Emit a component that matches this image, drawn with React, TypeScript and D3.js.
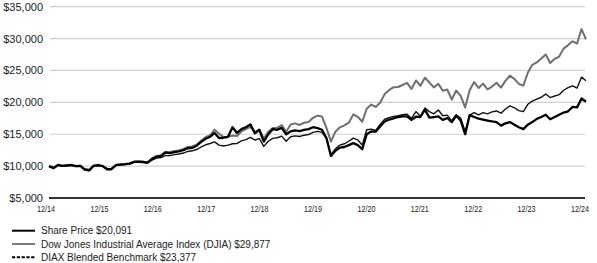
import React from "react";
import * as d3 from "d3";

const xTickLabels = ["12/14", "12/15", "12/16", "12/17", "12/18", "12/19", "12/20", "12/21", "12/22", "12/23", "12/24"];
const yTicks = [5000, 10000, 15000, 20000, 25000, 30000, 35000];

const sharePrice = [
  10000, 9700, 10150, 10050, 10100, 10150, 10000, 10050, 9450, 9350, 10050, 10150, 10000,
  9500, 9550, 10150, 10250, 10300, 10400, 10650, 10700, 10650, 10550, 11100, 11450,
  11600, 12100, 12050, 12200, 12300, 12500, 12800, 12850, 13200, 13800, 14300, 14600,
  15200, 14400, 14450, 14600, 16100, 15200, 15800, 16100, 16550, 15150, 15700, 13850,
  15000, 15800, 15700, 16000, 15000, 15450, 15600, 15500, 15700, 15800, 16100, 15950,
  15700, 14400, 11600, 12400, 12900, 13000, 13300, 13600, 13300, 12650, 15000, 15450,
  15400, 16200, 17000, 17300, 17500, 17700, 17800, 17800, 17250, 17750, 17700, 18850,
  17600, 17700, 17800, 17250, 17550, 16900, 17900, 17150, 15000, 18000, 17700, 17450,
  17300, 17150, 17000, 16900, 16350, 16700, 16900, 16500, 16100, 15800, 16500, 16900,
  17400, 17700, 18050, 17350, 17700, 18050, 18400, 18600, 19300, 19200, 20600, 20091,
];

const djia = [
  10000, 9649, 10212, 10030, 10085, 10200, 9998, 10056, 9413, 9292, 10098, 10149, 9999,
  9466, 9513, 10205, 10276, 10303, 10405, 10716, 10718, 10684, 10607, 11202, 11598,
  11679, 12259, 12194, 12382, 12445, 12671, 13016, 13075, 13372, 13978, 14541, 14836,
  15724, 15079, 14548, 14612, 14792, 14732, 15455, 15819, 16150, 15360, 15647, 14319,
  15374, 15968, 16006, 16447, 15376, 16513, 16708, 16452, 16803, 16916, 17577, 17916,
  17772, 16011, 13837, 15399, 16085, 16388, 16810, 18117, 17738, 16952, 18994, 19651,
  19287, 19935, 21296, 21913, 22378, 22403, 22726, 23047, 22099, 23433, 22602, 23862,
  23113, 22339, 22900, 21817, 22015, 20437, 21853, 21004, 19184, 21901, 23187, 22261,
  22935, 22014, 22472, 23072, 22309, 23369, 24197, 23671, 22886, 22618, 24647, 25888,
  26253, 26885, 27496, 26170, 26822, 27173, 28424, 28979, 29570, 29228, 31490, 29877,
];

const benchmark = [
  10000, 9750, 10150, 10050, 10100, 10150, 10000, 10050, 9550, 9450, 10050, 10100, 10000,
  9600, 9650, 10150, 10200, 10250, 10350, 10600, 10600, 10550, 10500, 10950, 11250,
  11350, 11650, 11650, 11800, 11900, 12050, 12300, 12400, 12600, 13000, 13350, 13550,
  13800, 13300, 13150, 13300, 13500, 13550, 13950, 14150, 14500, 14100, 14300, 13100,
  13900, 14350, 14450, 14700, 13900, 14600, 14750, 14650, 14850, 14950, 15300, 15450,
  15300, 14300, 11800, 12700, 13300, 13500, 13900, 14400, 14100, 13300, 15700, 15800,
  15600, 16550, 17350, 17600, 17800, 17900, 18050, 18150, 17500, 18550, 17800, 19100,
  18550, 18200, 18800, 17900, 18000, 17100, 18050, 17500, 15400, 18000, 18400, 18050,
  18400, 18200, 18500, 18650, 18300, 18950, 19450, 19150, 18700, 18550, 19700, 20200,
  20500, 20800, 21300, 20750, 21000, 21200, 21900, 22300, 22600, 22250, 23950, 23377,
];

const legendLabels = [
  "Share Price $20,091",
  "Dow Jones Industrial Average Index (DJIA) $29,877",
  "DIAX Blended Benchmark $23,377",
];

const W = 597;
const H = 263;
const FONT = "'Liberation Sans', Arial, Helvetica, sans-serif";

export default function App() {
  const x = d3.scaleLinear().domain([0, sharePrice.length - 1]).range([49, 586]);
  const y = d3.scaleLinear().domain([5000, 35000]).range([198, 6.7]);
  const xLab = d3.scaleLinear().domain([0, xTickLabels.length - 1]).range([46, 580]);
  const line = d3
    .line<number>()
    .x((_, i) => x(i))
    .y((d) => y(d));
  const fmt = (v: number) => "$" + d3.format(",")(v);

  const legendY = [230.7, 244, 257.3];

  return (
    <svg
      width={W}
      height={H}
      style={{ position: "absolute", left: 0, top: 0, background: "#fff" }}
      fontFamily={FONT}
    >
      {yTicks.map((t) =>
        t === 5000 ? null : (
          <line key={t} x1={50} x2={585} y1={y(t)} y2={y(t)} stroke="#cfcfcf" strokeWidth={1.2} />
        )
      )}
      {yTicks.map((t) => (
        <text key={"l" + t} x={43} y={y(t)} dy="0.36em" textAnchor="end" fontSize={11} fill="#222">
          {fmt(t)}
        </text>
      ))}
      <line x1={49} x2={585} y1={y(5000)} y2={y(5000)} stroke="#333" strokeWidth={2} />
      {xTickLabels.map((l, i) => (
        <text
          key={l}
          x={xLab(i)}
          y={212}
          textAnchor="middle"
          fontSize={9.5}
          fill="#222"
          textLength={18}
          lengthAdjust="spacingAndGlyphs"
        >
          {l}
        </text>
      ))}
      <path d={line(djia) || ""} fill="none" stroke="#6f6f6f" strokeWidth={2} strokeLinejoin="round" />
      <path d={line(benchmark) || ""} fill="none" stroke="#111" strokeWidth={1.4} strokeLinejoin="round" />
      <path d={line(sharePrice) || ""} fill="none" stroke="#000" strokeWidth={2.3} strokeLinejoin="round" />

      <line x1={12} x2={35} y1={legendY[0]} y2={legendY[0]} stroke="#000" strokeWidth={2} />
      <line x1={12} x2={35} y1={legendY[1]} y2={legendY[1]} stroke="#7a7a7a" strokeWidth={2} />
      <line
        x1={12}
        x2={35}
        y1={legendY[2]}
        y2={legendY[2]}
        stroke="#000"
        strokeWidth={2}
        strokeDasharray="3.2,1.6"
      />
      {legendLabels.map((l, i) => (
        <text key={l} x={41} y={legendY[i]} dy="0.35em" fontSize={10} fill="#222">
          {l}
        </text>
      ))}
    </svg>
  );
}
